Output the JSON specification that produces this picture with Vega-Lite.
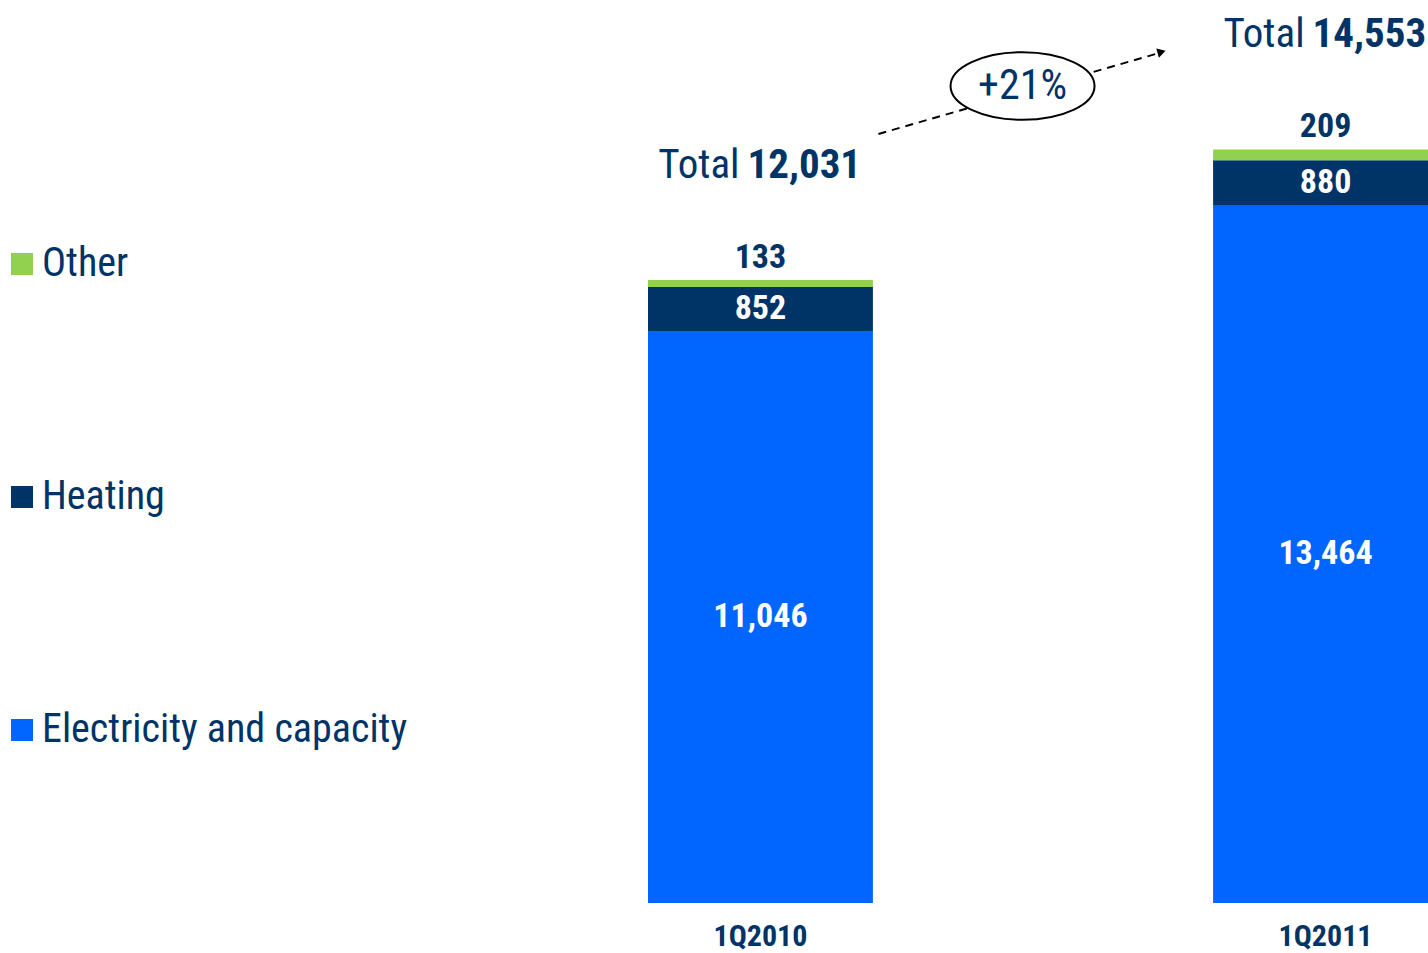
{
  "$schema": "https://vega.github.io/schema/vega-lite/v6.json",
  "width": 1428,
  "height": 903,
  "autosize": {"type": "none"},
  "padding": {"left": 0, "top": 0, "right": 0, "bottom": 50},
  "background": "white",
  "config": {
    "view": {"stroke": null},
    "font": "Roboto Condensed, Liberation Sans Narrow, Roboto",
    "text": {"font": "Roboto Condensed, Liberation Sans Narrow, Roboto", "color": "#003366"}
  },
  "datasets": {
    "bars": [
      {"q": "1Q2010", "seg": "Electricity and capacity", "v": 11046, "o": 1},
      {"q": "1Q2010", "seg": "Heating", "v": 852, "o": 2},
      {"q": "1Q2010", "seg": "Other", "v": 133, "o": 3},
      {"q": "1Q2011", "seg": "Electricity and capacity", "v": 13464, "o": 1},
      {"q": "1Q2011", "seg": "Heating", "v": 880, "o": 2},
      {"q": "1Q2011", "seg": "Other", "v": 209, "o": 3}
    ],
    "totals": [
      {"q": "1Q2010", "total": 12031, "other": 133},
      {"q": "1Q2011", "total": 14553, "other": 209}
    ],
    "arrow": [
      {"from": "1Q2010", "to": "1Q2011", "ystart": 14851, "yend": 16435}
    ],
    "growth": [
      {"q": "1Q2011", "y": 15778, "label": "+21%"}
    ]
  },
  "layer": [
    {
      "data": {"name": "bars"},
      "mark": {"type": "bar"},
      "encoding": {
        "x": {
          "field": "q", "type": "nominal", "sort": null,
          "scale": {"domain": ["1Q2010", "1Q2011"], "range": [648, 1438], "paddingInner": 0.602, "paddingOuter": 0},
          "axis": {
            "title": null, "domain": false, "ticks": false, "labelAngle": 0,
            "labelFont": "Roboto Condensed, Liberation Sans Narrow, Roboto", "labelFontWeight": "bold", "labelFontSize": 30,
            "labelColor": "#003366", "labelPadding": 18, "labelBaseline": "top"
          }
        },
        "y": {
          "field": "v", "type": "quantitative", "stack": "zero",
          "scale": {"domain": [0, 17439], "nice": false, "zero": true},
          "axis": null
        },
        "color": {
          "field": "seg", "type": "nominal",
          "scale": {"domain": ["Other", "Heating", "Electricity and capacity"], "range": ["#92D050", "#003366", "#0066FF"]},
          "legend": {
            "title": null, "orient": "none", "legendX": 2, "legendY": 244, "direction": "vertical",
            "symbolType": "square", "symbolSize": 484, "symbolStrokeWidth": 0,
            "labelFont": "Roboto Condensed, Liberation Sans Narrow, Roboto", "labelFontSize": 40, "labelColor": "#003366",
            "labelOffset": 0, "rowPadding": 193, "labelLimit": 600
          }
        },
        "order": {"field": "o", "type": "quantitative"}
      }
    },
    {
      "data": {"name": "bars"},
      "transform": [{"filter": "datum.seg !== 'Other'"}],
      "mark": {"type": "text", "color": "white", "fontWeight": "bold", "fontSize": 34, "baseline": "middle"},
      "encoding": {
        "x": {"field": "q", "type": "nominal"},
        "y": {"field": "v", "type": "quantitative", "stack": "zero", "bandPosition": 0.5},
        "detail": {"field": "seg"},
        "order": {"field": "o", "type": "quantitative"},
        "text": {"field": "v", "type": "quantitative", "format": ","}
      }
    },
    {
      "data": {"name": "totals"},
      "mark": {"type": "text", "fontWeight": "bold", "fontSize": 34, "baseline": "alphabetic", "dy": -12},
      "encoding": {
        "x": {"field": "q", "type": "nominal"},
        "y": {"field": "total", "type": "quantitative"},
        "text": {"field": "other", "type": "quantitative", "format": ","}
      }
    },
    {
      "data": {"name": "totals"},
      "mark": {"type": "text", "fontSize": 41, "baseline": "alphabetic", "align": "right", "dx": -21, "dy": -102},
      "encoding": {
        "x": {"field": "q", "type": "nominal"},
        "y": {"field": "total", "type": "quantitative"},
        "text": {"value": "Total"}
      }
    },
    {
      "data": {"name": "totals"},
      "mark": {"type": "text", "fontSize": 41, "fontWeight": "bold", "baseline": "alphabetic", "align": "left", "dx": -13, "dy": -102},
      "encoding": {
        "x": {"field": "q", "type": "nominal"},
        "y": {"field": "total", "type": "quantitative"},
        "text": {"field": "total", "type": "quantitative", "format": ","}
      }
    },
    {
      "data": {"name": "arrow"},
      "mark": {"type": "rule", "color": "black", "strokeWidth": 2, "strokeDash": [8, 6], "xOffset": 118, "x2Offset": -163},
      "encoding": {
        "x": {"field": "from", "type": "nominal"},
        "x2": {"field": "to"},
        "y": {"field": "ystart", "type": "quantitative"},
        "y2": {"field": "yend"}
      }
    },
    {
      "data": {"name": "arrow"},
      "mark": {"type": "point", "shape": "triangle-right", "filled": true, "color": "black", "size": 90, "angle": -16, "xOffset": -164, "opacity": 1},
      "encoding": {
        "x": {"field": "to", "type": "nominal"},
        "y": {"field": "yend", "type": "quantitative"}
      }
    },
    {
      "data": {"name": "growth"},
      "mark": {
        "type": "point", "shape": "M -1 0 A 1 0.47 0 1 1 1 0 A 1 0.47 0 1 1 -1 0 Z",
        "size": 20736, "filled": false, "fill": "white", "fillOpacity": 1, "stroke": "black", "strokeWidth": 2, "opacity": 1,
        "xOffset": -303
      },
      "encoding": {
        "x": {"field": "q", "type": "nominal"},
        "y": {"field": "y", "type": "quantitative"}
      }
    },
    {
      "data": {"name": "growth"},
      "mark": {"type": "text", "fontSize": 42, "baseline": "middle", "xOffset": -303},
      "encoding": {
        "x": {"field": "q", "type": "nominal"},
        "y": {"field": "y", "type": "quantitative"},
        "text": {"field": "label"}
      }
    }
  ]
}
